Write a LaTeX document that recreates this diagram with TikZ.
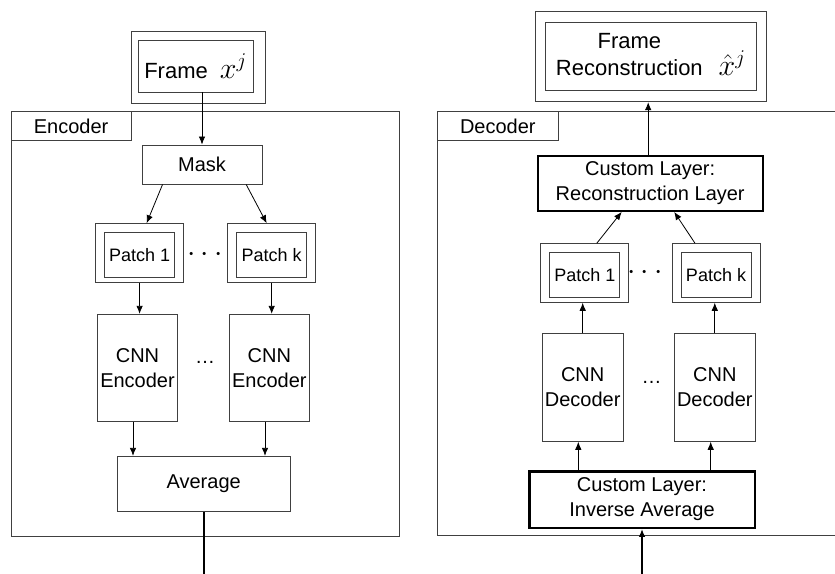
\RequirePackage{fix-cm}
\documentclass[tikz,border=0pt]{standalone}
\usepackage{fontspec}
\setmainfont{Liberation Sans}
\usetikzlibrary{arrows.meta}

\tikzset{
    box/.style={draw=black!75, line width=0.9pt, inner sep=0pt, align=center},
    boldbox/.style={draw=black, line width=2.4pt, inner sep=0pt, align=center},
    flow/.style={-{Latex[length=8pt,width=6.5pt]}, line width=0.8pt},
    io/.style={line width=1.8pt},
    big/.style={font=\fontsize{22}{26.5}\selectfont}
}

\begin{document}
\begin{tikzpicture}[x=1pt, y=-1pt, font=\fontsize{20}{25}\selectfont]
    \useasboundingbox (0,0) rectangle (835,573);
    \clip (0,0) rectangle (835,573);

    % Encoder container with its tab
    \node[box, minimum width=388.6, minimum height=424.7, anchor=north west] (enc) at (10.7,111.3) {};
    \node[box, minimum width=120, minimum height=28.7, anchor=north west] (encTab) at (enc.north west) {Encoder};

    % Input frame
    \node[box, minimum width=133.3, minimum height=72] (frameIn) at (198.3,67) {};
    \node[box, big, minimum width=115, minimum height=52] (frameInInner) at (195.5,66)
        {Frame\hspace{12pt}{\fontsize{30}{30}\selectfont$x^j$}};

    % Mask
    \node[box, minimum width=120, minimum height=39] (mask) at (202,164.5) {Mask};

    % Patches: an outer frame with an inner box
    \foreach \name/\cx/\cy/\lbl in {patchA/139.6/253/1, patchB/271.7/253/k, patchC/584.8/273/1, patchD/716/273/k} {
        \node[box, minimum width=88, minimum height=58.6] (\name) at (\cx,\cy) {};
        \node[box, minimum width=70, minimum height=45.6, font=\fontsize{18}{20}\selectfont]
            (\name In) at ([yshift=-1.8pt]\name.center) {Patch \lbl};
    }

    % CNN encoders
    \node[box, minimum width=80, minimum height=107] (encA) at (137.5,367.8) {CNN\\Encoder};
    \node[box, minimum width=80, minimum height=107] (encB) at (269.3,367.8) {CNN\\Encoder};

    % Average
    \node[box, minimum width=172.7, minimum height=55.4] (avg) at (203.7,484) {Average};

    % Dots between the branches
    \node[font=\fontsize{30}{30}\selectfont] (dotsA) at (205,255) {$\cdots$};
    \node (dotsB) at (205,362) {…};
    \node[font=\fontsize{30}{30}\selectfont] (dotsC) at (645,273) {$\cdots$};
    \node (dotsD) at (651.7,382) {…};

    % Decoder container with its tab
    \node[box, minimum width=420, minimum height=424.3, anchor=north west] (dec) at (437,111) {};
    \node[box, minimum width=120.7, minimum height=29, anchor=north west] (decTab) at (dec.north west) {Decoder};

    % Reconstructed frame
    \node[box, minimum width=231, minimum height=90] (frameOut) at (651.2,56.7) {};
    \node[box, big, minimum width=210.3, minimum height=68] (frameOutInner) at (650.8,56.7)
        {\begin{tabular}[b]{@{}c@{}}Frame\\Reconstruction\end{tabular}\hspace{16pt}{\fontsize{30}{30}\selectfont$\hat{x}^j$}};

    % Custom layers
    \node[boldbox, minimum width=225, minimum height=55] (recon) at (650.2,183.2) {Custom Layer:\\Reconstruction Layer};
    \node[boldbox, minimum width=225.4, minimum height=56.4] (invAvg) at (642,499.5) {Custom Layer:\\Inverse Average};

    % CNN decoders
    \node[box, minimum width=80.7, minimum height=107.6] (decA) at (582.7,387.5) {CNN\\Decoder};
    \node[box, minimum width=80.3, minimum height=107.6] (decB) at (714.8,387.5) {CNN\\Decoder};

    % Encoder arrows
    \draw[flow] (mask.north |- frameInInner.south) -- (mask.north);
    \draw[flow] ([xshift=21pt]mask.south west) -- ([xshift=7pt]patchA.north);
    \draw[flow] ([xshift=-16.3pt]mask.south east) -- ([xshift=-5pt]patchB.north);
    \draw[flow] (patchA.south) -- (patchA.south |- encA.north);
    \draw[flow] (patchB.south) -- (patchB.south |- encB.north);
    \draw[flow] ([xshift=-4.5pt]encA.south) -- ([xshift=-4.5pt]encA.south |- avg.north);
    \draw[flow] ([xshift=-4.3pt]encB.south) -- ([xshift=-4.3pt]encB.south |- avg.north);
    \draw[io] (avg.south) -- ++(0,70);

    % Decoder arrows
    \coordinate (latent) at ([yshift=-60pt]invAvg.south);
    \draw[flow, io] (latent) -- (invAvg.south);
    \draw[flow] ([xshift=-4.4pt]decA.south |- invAvg.north) -- ([xshift=-4.4pt]decA.south);
    \draw[flow] ([xshift=-4.1pt]decB.south |- invAvg.north) -- ([xshift=-4.1pt]decB.south);
    \draw[flow] (decA.north) -- (decA.north |- patchC.south);
    \draw[flow] (decB.north) -- (decB.north |- patchD.south);
    \draw[flow] ([xshift=12pt]patchC.north) -- ([xshift=-28.5pt]recon.south);
    \draw[flow] ([xshift=-21pt]patchD.north) -- ([xshift=24pt]recon.south);
    \draw[flow] ([xshift=-2pt]recon.north) -- ([xshift=-2pt]recon.north |- frameOut.south);
\end{tikzpicture}
\end{document}
